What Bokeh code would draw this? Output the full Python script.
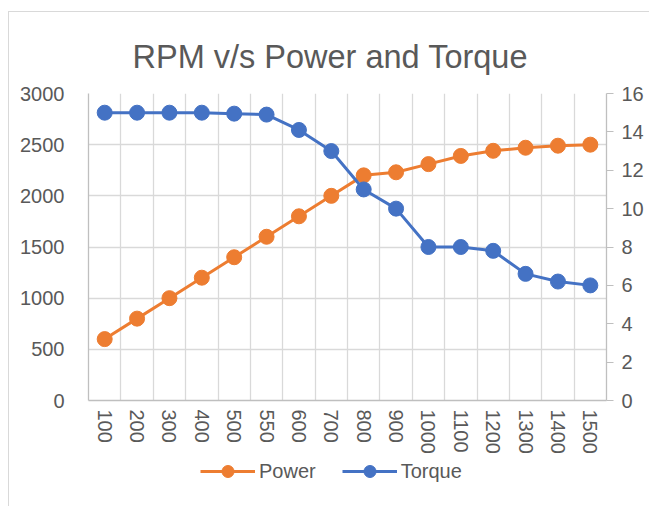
from bokeh.plotting import figure
from bokeh.layouts import column
from bokeh.models import (Range1d, FactorRange, LinearAxis, FixedTicker, Legend,
                          LegendItem)
from bokeh.embed import file_html
from bokeh.resources import INLINE

# ---- data ----
rpm = ["100", "200", "300", "400", "500", "550", "600", "700",
       "800", "900", "1000", "1100", "1200", "1300", "1400", "1500"]
power = [600, 800, 1000, 1200, 1400, 1600, 1800, 2000,
         2200, 2230, 2310, 2390, 2440, 2470, 2490, 2500]
torque = [15, 15, 15, 15, 14.95, 14.9, 14.1, 13.0,
          11.0, 10.0, 8.0, 8.0, 7.8, 6.6, 6.2, 6.0]
power_ticks = [0, 500, 1000, 1500, 2000, 2500, 3000]
torque_ticks = [0, 2, 4, 6, 8, 10, 12, 14, 16]

FONT = "Liberation Sans"
TXT = "#595959"
GRID = "#d9d9d9"
AXIS = "#bfbfbf"
ORANGE = "#ED7D31"
BLUE = "#4472C4"

p = figure(width=649, height=456,
           x_range=FactorRange(factors=rpm, range_padding=0),
           y_range=Range1d(0, 3000),
           output_backend="svg", toolbar_location=None,
           min_border_left=88, min_border_right=43,
           min_border_top=93, min_border_bottom=54,
           title="RPM v/s Power and Torque")
p.extra_y_ranges = {"torque": Range1d(0, 16)}
p.outline_line_color = None
p.background_fill_color = "white"
p.border_fill_color = None

p.title.text_font = FONT
p.title.text_font_size = "32.5px"
p.title.text_font_style = "normal"
p.title.text_color = TXT
p.title.align = "left"
p.title.offset = 44
p.title.standoff = 38

# axes
left = p.yaxis[0]
left.ticker = FixedTicker(ticks=power_ticks)
bottom = p.xaxis[0]
right = LinearAxis(y_range_name="torque", ticker=FixedTicker(ticks=torque_ticks))
p.add_layout(right, "right")

for ax in (left, bottom, right):
    ax.axis_line_color = AXIS
    ax.axis_line_width = 1.3
    ax.major_label_text_font = FONT
    ax.major_label_text_font_size = "20px"
    ax.major_label_text_color = TXT
    ax.minor_tick_line_color = None
    ax.major_tick_in = 0

left.major_tick_out = 0
left.major_label_standoff = 24
bottom.major_tick_out = 0
bottom.major_tick_line_color = None
bottom.major_label_orientation = "vertical"
bottom.major_label_standoff = 9
right.major_tick_out = 7
right.major_tick_line_color = AXIS
right.major_label_standoff = 8

# grids
p.ygrid.ticker = FixedTicker(ticks=power_ticks)
p.xgrid.ticker = FixedTicker(ticks=list(range(len(rpm) + 1)))
for g in (p.xgrid[0], p.ygrid[0]):
    g.grid_line_color = GRID
    g.grid_line_width = 1.3

# series
p.line(rpm, power, line_color=ORANGE, line_width=3)
p.scatter(rpm, power, size=15, fill_color=ORANGE, line_color=ORANGE)
p.line(rpm, torque, line_color=BLUE, line_width=3, y_range_name="torque")
p.scatter(rpm, torque, size=15, fill_color=BLUE, line_color=BLUE,
          y_range_name="torque")

# legend strip: a small figure whose (out-of-view) series only feed the legend
lg = figure(width=649, height=30, output_backend="svg", toolbar_location=None,
            x_axis_type=None, y_axis_type=None, min_border=0,
            x_range=FactorRange(factors=rpm, range_padding=0),
            y_range=Range1d(-2, -1))
lg.outline_line_color = None
lg.grid.visible = False
lg.background_fill_color = None
lg.border_fill_color = None
lp_l = lg.line(rpm, power, line_color=ORANGE, line_width=3)
lp_s = lg.scatter(rpm, power, fill_color=ORANGE, line_color=ORANGE)
lt_l = lg.line(rpm, torque, line_color=BLUE, line_width=3)
lt_s = lg.scatter(rpm, torque, fill_color=BLUE, line_color=BLUE)
legend = Legend(items=[LegendItem(label="Power", renderers=[lp_l, lp_s]),
                       LegendItem(label="Torque", renderers=[lt_l, lt_s])],
                orientation="horizontal", location=(112, 0),
                glyph_width=55, glyph_height=30, label_standoff=4,
                spacing=26, padding=0, margin=0,
                label_text_font=FONT, label_text_font_size="20px",
                label_text_color=TXT, background_fill_alpha=0,
                border_line_color=None)
lg.add_layout(legend, "center")

layout = column(p, lg, spacing=0)
layout.styles = {
    "background": ("linear-gradient(#d9d9d9,#d9d9d9) 8px 11px / 1px 100% no-repeat, "
                   "linear-gradient(#d9d9d9,#d9d9d9) 8px 11px / 100% 1px no-repeat, "
                   "white"),
    "min-height": "506px",
}

open("out.html", "w").write(file_html(layout, INLINE))
